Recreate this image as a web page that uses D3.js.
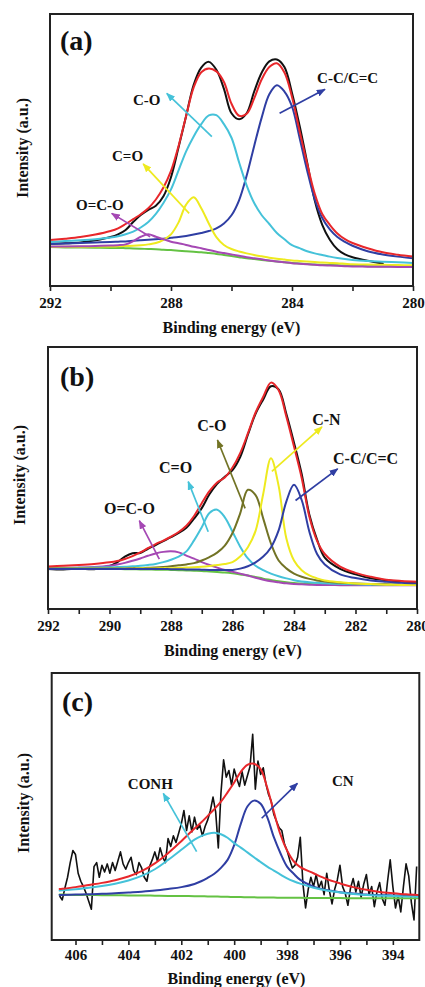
<!DOCTYPE html>
<html><head><meta charset="utf-8">
<script src="https://cdn.jsdelivr.net/npm/d3@7"></script>
<style>body{margin:0;background:#fff}svg{display:block}</style>
</head><body>
<svg id="chart" width="425" height="987"></svg>
<script>
// ---------------- DATA ----------------
// Panel (a): C 1s
const energyA = [292,291.5,291,290.5,290,289.75,289.5,289.25,289,288.75,288.5,288.25,288,287.75,287.5,287.25,287,286.75,286.5,286.25,286,285.75,285.5,285.25,285,284.75,284.5,284.25,284,283.75,283.5,283.25,283,282.75,282.5,282.25,282,281.5,281,280.5,280];
const a_raw    = [15.5,15.7,16.0,16.8,18.0,19.0,20.6,23.5,26.1,28.0,29.5,33.0,40.0,51.0,62.5,74.0,80.3,82.4,79.5,72.5,63.5,61.3,63.5,71.5,78.5,82.6,83.3,80.5,71.0,59.0,45.5,31.5,22.5,17.0,13.5,11.6,10.6,9.3,8.3,null,null];
const a_fit    = [16.9,17.4,18.0,18.9,20.2,21.2,22.8,24.6,26.4,28.6,31.8,36.2,42.3,51.5,62.5,73.0,78.6,80.0,78.9,75.0,67.0,62.6,63.3,69.0,76.0,80.5,81.9,78.5,69.5,57.0,45.0,34.0,26.5,22.5,19.3,17.2,15.8,13.9,12.4,11.5,10.8];
const a_CC     = [15.4,15.6,15.8,16.0,16.2,16.3,16.4,16.6,16.8,17.0,17.2,17.4,17.7,18.0,18.4,18.9,19.5,20.2,21.2,23.0,26.0,31.5,40.5,51.5,62.0,70.5,73.8,71.5,66.0,54.5,42.5,32.0,25.0,20.8,18.0,16.2,14.8,12.8,11.6,10.8,10.2];
const a_CO     = [16.2,16.5,16.8,17.2,17.8,18.3,19.0,20.0,21.5,23.5,26.5,30.5,35.5,42.5,49.5,55.0,59.5,62.7,62.8,59.5,54.5,45.5,37.0,30.5,26.0,22.8,19.5,17.2,15.0,13.9,12.8,12.0,11.4,10.8,10.3,9.9,9.6,9.2,8.9,8.7,8.5];
const a_C_O    = [14.4,14.4,14.4,14.5,14.5,14.6,14.7,14.8,15.0,15.3,15.8,17.0,19.0,23.4,29.9,32.6,28.6,23.0,18.0,15.1,13.6,12.7,12.0,11.4,10.9,10.4,10.0,9.7,9.4,9.2,9.0,8.8,8.6,8.5,8.4,8.2,8.0,7.9,7.8,7.7,7.6];
const a_OCO    = [14.5,14.5,14.6,14.7,14.9,15.0,15.3,16.5,18.1,19.0,18.1,17.2,16.3,15.7,15.1,14.4,13.9,13.2,12.6,12.1,11.6,11.1,10.6,10.2,9.8,9.4,9.0,8.7,8.4,8.2,8.0,7.8,7.6,7.5,7.4,7.3,7.2,7.1,7.1,7.0,7.0];
const a_bg     = [14.3,14.2,14.2,14.1,14.0,14.0,13.9,13.8,13.7,13.6,13.5,13.3,13.2,13.0,12.8,12.6,12.4,12.1,11.8,11.4,11.0,10.6,10.2,9.9,9.6,9.3,9.0,8.7,8.5,8.3,8.1,7.9,7.8,7.7,7.6,7.5,7.4,7.3,7.2,7.2,7.2];

// Panel (b): C 1s
const energyB = [292,291.5,291,290.5,290,289.75,289.5,289.25,289,288.75,288.5,288.25,288,287.75,287.5,287.25,287,286.75,286.5,286.25,286,285.75,285.5,285.25,285,284.75,284.5,284.25,284,283.75,283.5,283.25,283,282.5,282,281.5,281,280.5,280];
const b_raw    = [15.3,15.1,15.4,15.2,16.4,17.8,20.0,21.3,21.4,23.0,24.4,25.9,27.4,29.0,31.0,34.5,38.5,43.8,47.8,50.5,53.0,58.0,66.5,74.5,80.0,85.0,83.8,74.5,63.5,51.5,36.0,26.5,19.6,15.3,13.2,11.7,11.0,10.4,10.1];
const b_fit    = [16.2,16.5,16.8,17.2,17.8,18.3,19.1,20.2,21.6,23.2,24.8,26.1,27.6,29.4,31.8,35.5,40.4,45.0,48.3,50.2,54.0,59.5,67.0,75.0,81.0,86.4,83.5,73.5,62.0,50.0,35.2,26.0,21.0,16.2,13.8,12.3,11.2,10.7,10.4];
const b_CC     = [15.3,15.3,15.3,15.3,15.3,15.3,15.3,15.3,15.3,15.3,15.3,15.3,15.2,15.2,15.1,15.1,15.0,14.9,14.9,14.9,14.9,15.4,16.3,17.8,20.0,23.5,30.0,41.0,47.4,41.6,29.5,21.0,17.0,13.2,11.8,10.9,10.4,10.0,9.8];
const b_CN     = [15.4,15.4,15.4,15.4,15.4,15.4,15.4,15.4,15.5,15.5,15.5,15.6,15.6,15.7,15.8,15.9,16.1,16.4,16.8,17.2,17.9,20.0,23.6,29.8,44.0,57.5,47.0,27.0,18.5,14.8,12.8,11.7,10.9,10.2,9.7,9.5,9.3,9.2,9.2];
const b_CO     = [15.5,15.5,15.5,15.5,15.5,15.5,15.5,15.6,15.6,15.7,15.8,16.0,16.3,16.7,17.0,17.5,18.5,19.8,21.5,24.2,29.0,36.5,45.5,43.5,34.5,25.0,18.5,15.5,13.5,12.3,11.5,10.9,10.5,10.0,9.7,9.5,9.4,9.3,9.2];
const b_C_O    = [15.5,15.6,15.7,15.8,15.9,16.0,16.1,16.3,16.5,16.8,17.2,17.9,18.8,20.0,22.0,26.2,31.2,36.6,37.9,35.0,29.5,23.8,19.3,16.5,14.8,13.5,12.5,11.7,11.0,10.5,10.2,10.0,9.8,9.6,9.4,9.3,9.3,9.2,9.2];
const b_OCO    = [15.6,15.7,15.8,16.0,16.5,17.0,17.6,18.4,19.3,20.3,21.2,21.8,22.0,21.6,20.4,19.2,17.9,16.8,15.8,14.9,14.2,13.5,12.8,11.9,11.2,10.6,10.2,9.8,9.5,9.4,9.3,9.2,9.2,9.1,9.1,9.1,9.1,9.1,9.1];
const b_bg     = [15.5,15.5,15.4,15.4,15.3,15.3,15.2,15.2,15.1,15.1,15.0,15.0,14.9,14.8,14.7,14.6,14.5,14.3,14.1,13.9,13.6,13.2,12.8,12.2,11.6,11.1,10.6,10.2,9.9,9.7,9.5,9.4,9.3,9.2,9.2,9.2,9.2,9.2,9.2];

// Panel (c): N 1s
const energyC = [406.6,406.5,406,405.5,405,404.5,404,403.5,403,402.5,402,401.5,401.25,401,400.75,400.5,400.25,400,399.75,399.5,399.25,399,398.75,398.5,398.25,398,397.75,397.5,397,396.5,396,395.5,395,394.5,394,393.5,393.05];
const c_fit    = [19.1,19.2,19.8,20.6,21.4,22.4,23.8,25.8,28.7,32.5,37.0,41.8,44.0,46.5,49.0,51.8,55.3,59.0,63.0,65.6,66.0,64.0,57.0,48.0,39.5,33.5,29.5,27.3,25.0,22.8,21.2,19.8,18.8,18.0,17.5,17.1,16.9];
const c_CONH   = [18.5,18.6,19.0,19.6,20.2,21.1,22.3,24.0,26.5,30.0,33.8,37.6,38.9,39.8,40.2,39.6,38.3,36.3,34.6,32.8,31.0,29.2,27.5,26.0,24.5,23.1,22.0,21.1,19.6,18.5,17.8,17.2,16.9,16.6,16.5,16.3,16.2];
const c_CN     = [16.9,16.9,17.0,17.1,17.3,17.5,17.8,18.1,18.5,19.1,19.8,21.0,22.0,23.3,24.8,27.0,30.0,35.5,43.5,50.0,52.2,51.0,46.0,38.5,32.5,27.5,24.8,22.5,20.0,18.7,17.9,17.4,17.0,16.8,16.7,16.6,16.5];
const c_bg     = [17.0,17.0,16.9,16.9,16.8,16.8,16.7,16.7,16.6,16.5,16.5,16.4,16.4,16.3,16.3,16.2,16.2,16.1,16.1,16.0,16.0,15.9,15.9,15.9,15.8,15.8,15.8,15.8,15.7,15.7,15.7,15.6,15.6,15.6,15.6,15.6,15.6];
// raw N 1s counts, one reading every 0.1 eV from 406.6 eV down to 393.1 eV
const c_rawStart = 406.6, c_rawStep = 0.1;
const c_raw = [16.5,15.0,19.5,23.5,29.0,33.5,32.0,25.0,22.0,20.0,17.5,14.5,11.5,27.5,29.0,23.5,28.0,25.5,28.5,25.0,
29.0,26.0,29.5,33.0,28.5,26.5,29.0,31.0,26.0,24.5,29.0,27.0,23.5,22.0,27.5,30.0,33.0,29.5,34.5,31.0,
29.0,38.0,35.0,39.0,36.5,40.0,43.5,48.5,41.0,46.5,40.5,46.0,41.5,43.0,39.0,42.5,45.0,48.5,53.5,48.0,
34.5,55.0,67.5,61.0,63.5,58.0,64.0,60.5,57.5,63.0,58.0,61.5,65.0,77.0,56.5,67.0,62.0,64.5,58.5,54.5,
52.0,47.0,44.5,42.0,41.0,36.0,33.5,30.0,27.0,28.0,31.0,38.5,21.0,12.0,19.0,23.5,20.0,24.5,19.5,22.0,
17.0,25.0,18.5,13.5,19.0,22.5,28.0,20.0,17.5,13.0,19.5,23.0,18.0,22.0,16.0,21.0,24.5,17.0,20.0,12.5,
18.0,21.5,15.5,13.0,22.0,30.0,20.0,12.0,16.5,10.5,20.0,28.5,24.0,14.0,7.5,27.5];

// tick labels
const ticksA = [292,290,288,286,284,282,280], labelsA = [292,288,284,280];
const ticksB = [292,291,290,289,288,287,286,285,284,283,282,281,280], labelsB = [292,290,288,286,284,282,280];
const ticksC = [406,405,404,403,402,401,400,399,398,397,396,395,394], labelsC = [406,404,402,400,398,396,394];

// peak annotations: label text, text anchor point [eV, intensity], arrow from/to [eV, intensity]
const annA = [
  {t:"C-O",     c:"cyan",   at:[289.26,66.7], from:[286.65,54.9], to:[288.14,70.8]},
  {t:"C=O",     c:"yellow", at:[289.95,46.1], from:[287.40,26.7], to:[288.92,44.9]},
  {t:"O=C-O",   c:"purple", at:[291.14,27.9], from:[288.69,18.1], to:[289.96,26.7]},
  {t:"C-C/C=C", c:"blue",   at:[283.17,74.6], from:[284.41,63.5], to:[282.91,72.3]}
];
const annB = [
  {t:"C-O",     c:"olive",  at:[287.15,67.9], from:[285.59,38.4], to:[286.49,64.5]},
  {t:"C=O",     c:"cyan",   at:[288.39,51.9], from:[286.79,29.5], to:[287.44,48.6]},
  {t:"O=C-O",   c:"purple", at:[290.18,36.3], from:[288.38,19.0], to:[289.03,33.7]},
  {t:"C-N",     c:"yellow", at:[283.41,70.2], from:[284.72,52.5], to:[283.09,69.5]},
  {t:"C-C/C=C", c:"blue",   at:[282.73,55.3], from:[283.95,41.4], to:[282.58,53.5]}
];
const annC = [
  {t:"CONH", c:"cyan", at:[404.02,56.6], from:[401.42,33.1], to:[402.68,54.9]},
  {t:"CN",   c:"blue", at:[396.30,57.7], from:[398.96,45.6], to:[397.61,58.7]}
];

// ---------------- STYLE / LAYOUT ----------------
const COL = {black:"#111111", red:"#e8272b", blue:"#2f3ea3", cyan:"#45c2d9", yellow:"#eeea1f",
             purple:"#a548b4", green:"#64c243", olive:"#727325"};
const SERIF = "'Liberation Serif','Times New Roman','DejaVu Serif',serif";

const panels = [
  {tag:"(a)", box:[50,14,413,286], dom:[292,280], E:energyA, ticks:ticksA, labels:labelsA, pad:6.5,
   tagPos:[60,50], ylab:[28,148], xlab:[231.5,333], lab:15, ann:annA,
   series:[{v:a_raw,c:"black",w:2},{v:a_bg,c:"green"},{v:a_CC,c:"blue"},{v:a_CO,c:"cyan"},
           {v:a_C_O,c:"yellow"},{v:a_OCO,c:"purple"},{v:a_fit,c:"red"}]},
  {tag:"(b)", box:[48,347,417,609], dom:[292,280], E:energyB, ticks:ticksB, labels:labelsB, pad:6,
   tagPos:[60,386], ylab:[25,475], xlab:[233,656], lab:16, ann:annB,
   series:[{v:b_raw,c:"black",w:2},{v:b_bg,c:"green"},{v:b_OCO,c:"purple"},{v:b_C_O,c:"cyan"},
           {v:b_CO,c:"olive"},{v:b_CN,c:"yellow"},{v:b_CC,c:"blue"},{v:b_fit,c:"red"}]},
  {tag:"(c)", box:[51.7,673,419.3,940], dom:[406.9,393.0], E:energyC, ticks:ticksC, labels:labelsC, pad:4,
   tagPos:[62,711], ylab:[29,803], xlab:[236.5,984], lab:15, ann:annC, raw:true,
   series:[{v:c_bg,c:"green"},{v:c_CN,c:"blue"},{v:c_CONH,c:"cyan"},{v:c_fit,c:"red"}]}
];

// ---------------- DRAW ----------------
const svg = d3.select("#chart");
const defs = svg.append("defs");
Object.entries(COL).forEach(([k,c]) => {
  defs.append("marker").attr("id","arr-"+k).attr("viewBox","0 0 10 8")
    .attr("refX",9).attr("refY",4).attr("markerWidth",9).attr("markerHeight",7.2)
    .attr("markerUnits","userSpaceOnUse").attr("orient","auto")
    .append("path").attr("d","M0,0L10,4L0,8Z").attr("fill",c);
});

panels.forEach(p => {
  const [x0,y0,x1,y1] = p.box;
  const x = d3.scaleLinear().domain(p.dom).range([x0,x1]);
  const y = d3.scaleLinear().domain([0,100]).range([y1,y0]);
  const g = svg.append("g");
  const clipId = "clip"+p.tag.replace(/\W/g,"");
  defs.append("clipPath").attr("id",clipId).append("rect")
     .attr("x",x0).attr("y",y0).attr("width",x1-x0).attr("height",y1-y0);
  const plot = g.append("g").attr("clip-path",`url(#${clipId})`);

  if (p.raw) {
    const pts = c_raw.map((v,i) => [c_rawStart - i*c_rawStep, v]);
    plot.append("path").datum(pts)
      .attr("d", d3.line().x(d=>x(d[0])).y(d=>y(d[1])))
      .attr("fill","none").attr("stroke",COL.black).attr("stroke-width",1.6)
      .attr("stroke-linejoin","round");
  }
  const line = d3.line().defined(d=>d[1]!=null).x(d=>x(d[0])).y(d=>y(d[1]))
                 .curve(d3.curveCatmullRom.alpha(0.5));
  p.series.forEach(s => {
    const pts = p.E.map((e,i)=>[e, s.v[i]]);
    plot.append("path").datum(pts).attr("d",line)
      .attr("fill","none").attr("stroke",COL[s.c]).attr("stroke-width",s.w||2)
      .attr("stroke-linejoin","round").attr("stroke-linecap","round");
  });

  // annotations
  p.ann.forEach(a => {
    g.append("line")
      .attr("x1",x(a.from[0])).attr("y1",y(a.from[1]))
      .attr("x2",x(a.to[0])).attr("y2",y(a.to[1]))
      .attr("stroke",COL[a.c]).attr("stroke-width",1.7)
      .attr("marker-end",`url(#arr-${a.c})`);
    g.append("text").attr("x",x(a.at[0])).attr("y",y(a.at[1]))
      .attr("font-family",SERIF).attr("font-weight","bold").attr("font-size",p.lab)
      .attr("fill","#111").text(a.t);
  });

  // axis
  const ax = g.append("g").attr("transform",`translate(0,${y1})`)
    .call(d3.axisBottom(x).tickValues(p.ticks).tickSize(5).tickPadding(p.pad)
          .tickFormat(d => p.labels.includes(d) ? d : ""));
  ax.select(".domain").remove();
  ax.selectAll(".tick line").attr("stroke","#222").attr("stroke-width",1.6);
  ax.selectAll(".tick text").attr("font-family",SERIF).attr("font-weight","bold")
    .attr("font-size",15).attr("fill","#111");

  // frame
  g.append("rect").attr("x",x0).attr("y",y0).attr("width",x1-x0).attr("height",y1-y0)
    .attr("fill","none").attr("stroke","#222").attr("stroke-width",2);

  // labels
  g.append("text").attr("x",p.tagPos[0]).attr("y",p.tagPos[1])
    .attr("font-family",SERIF).attr("font-weight","bold").attr("font-size",28)
    .attr("fill","#111").text(p.tag);
  g.append("text").attr("transform",`translate(${p.ylab[0]},${p.ylab[1]}) rotate(-90)`)
    .attr("text-anchor","middle").attr("font-family",SERIF).attr("font-weight","bold")
    .attr("font-size",16).attr("fill","#111").text("Intensity (a.u.)");
  g.append("text").attr("x",p.xlab[0]).attr("y",p.xlab[1]).attr("text-anchor","middle")
    .attr("font-family",SERIF).attr("font-weight","bold").attr("font-size",16)
    .attr("fill","#111").text("Binding energy (eV)");
});
</script>
</body></html>
